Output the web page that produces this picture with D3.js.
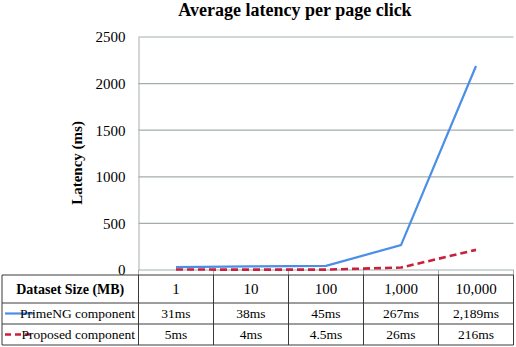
<!DOCTYPE html>
<html>
<head>
<meta charset="utf-8">
<script src="https://cdn.jsdelivr.net/npm/d3@7"></script>
</head>
<body style="margin:0;background:#fff;font-family:'Liberation Serif'">
<svg id="chart" width="516" height="347" font-family="Liberation Serif" style="display:block"></svg>
<script>
const categories = ['1', '10', '100', '1,000', '10,000'];
const primeng = [31, 38, 45, 267, 2189];
const proposed = [5, 4, 4.5, 26, 216];
const primengLabels = ['31ms', '38ms', '45ms', '267ms', '2,189ms'];
const proposedLabels = ['5ms', '4ms', '4.5ms', '26ms', '216ms'];
const yTicks = [0, 500, 1000, 1500, 2000, 2500];

const plotLeft = 138.5, plotRight = 513.5, plotTop = 37, plotBottom = 270;
const svg = d3.select('#chart');

const xScale = d3.scaleBand().domain(categories).range([plotLeft, plotRight]);
const yScale = d3.scaleLinear().domain([0, 2500]).range([plotBottom, plotTop]);

// title
svg.append('text')
  .attr('x', 295).attr('y', 16)
  .attr('text-anchor', 'middle')
  .attr('font-weight', 'bold').attr('font-size', 18)
  .text('Average latency per page click');

// gridlines + y axis
const yAxis = d3.axisLeft(yScale).tickValues(yTicks).tickFormat(d3.format('d')).tickSize(0).tickPadding(13);
const gy = svg.append('g').attr('transform', `translate(${plotLeft},0)`).call(yAxis);
gy.attr('font-family', 'Liberation Serif');
gy.select('.domain').attr('stroke', '#a4adad');
gy.selectAll('text').attr('font-size', 15).attr('fill', '#000');

svg.append('g').selectAll('line').data(yTicks).join('line')
  .attr('x1', plotLeft).attr('x2', plotRight)
  .attr('y1', d => yScale(d)).attr('y2', d => yScale(d))
  .attr('stroke', '#a4adad').attr('stroke-width', 1.2);

// small category ticks
svg.append('g').selectAll('line').data(categories.concat(['end'])).join('line')
  .attr('x1', (d, i) => plotLeft + i * xScale.bandwidth())
  .attr('x2', (d, i) => plotLeft + i * xScale.bandwidth())
  .attr('y1', plotBottom).attr('y2', plotBottom + 5)
  .attr('stroke', '#a4adad');

// y axis title
svg.append('text')
  .attr('transform', 'translate(82,163) rotate(-90)')
  .attr('text-anchor', 'middle')
  .attr('font-weight', 'bold').attr('font-size', 15)
  .text('Latency (ms)');

// lines
const line = d3.line()
  .x((d, i) => xScale(categories[i]) + xScale.bandwidth() / 2)
  .y(d => yScale(d));

svg.append('path').attr('d', line(primeng))
  .attr('fill', 'none').attr('stroke', '#4a8ee8').attr('stroke-width', 2.2);
svg.append('path').attr('d', line(proposed))
  .attr('fill', 'none').attr('stroke', '#c9203b').attr('stroke-width', 2.6)
  .attr('stroke-dasharray', '7,4');

// data table
const rowY = [275, 303, 324, 345];
const tableLeft = 2;
const colX = [tableLeft].concat(d3.range(categories.length + 1).map(i => plotLeft + i * xScale.bandwidth()));
const tbl = svg.append('g').attr('stroke', '#3a3a3a').attr('stroke-width', 1);
tbl.selectAll('.h').data(rowY).join('line')
  .attr('x1', tableLeft).attr('x2', plotRight)
  .attr('y1', d => d).attr('y2', d => d);
tbl.selectAll('.v').data(colX).join('line')
  .attr('x1', d => d).attr('x2', d => d)
  .attr('y1', rowY[0]).attr('y2', rowY[3]);

const rowMid = i => (rowY[i] + rowY[i + 1]) / 2;
svg.append('text')
  .attr('x', (tableLeft + plotLeft) / 2).attr('y', rowMid(0) + 5)
  .attr('text-anchor', 'middle').attr('font-weight', 'bold').attr('font-size', 14)
  .text('Dataset Size (MB)');

svg.append('g').selectAll('text').data(categories).join('text')
  .attr('x', d => xScale(d) + xScale.bandwidth() / 2).attr('y', rowMid(0) + 5)
  .attr('text-anchor', 'middle').attr('font-size', 15)
  .text(d => d);

svg.append('g').selectAll('text').data(primengLabels).join('text')
  .attr('x', (d, i) => xScale(categories[i]) + xScale.bandwidth() / 2).attr('y', rowMid(1) + 4.5)
  .attr('text-anchor', 'middle').attr('font-size', 13.5)
  .text(d => d);

svg.append('g').selectAll('text').data(proposedLabels).join('text')
  .attr('x', (d, i) => xScale(categories[i]) + xScale.bandwidth() / 2).attr('y', rowMid(2) + 4.5)
  .attr('text-anchor', 'middle').attr('font-size', 13.5)
  .text(d => d);

// legend keys in table
svg.append('line').attr('x1', 5).attr('x2', 34).attr('y1', rowMid(1)).attr('y2', rowMid(1))
  .attr('stroke', '#4a8ee8').attr('stroke-width', 2.2);
svg.append('text').attr('x', 135).attr('y', rowMid(1) + 4.5)
  .attr('text-anchor', 'end').attr('font-size', 13.5).text('PrimeNG component');
svg.append('line').attr('x1', 5).attr('x2', 31).attr('y1', rowMid(2)).attr('y2', rowMid(2))
  .attr('stroke', '#c9203b').attr('stroke-width', 2.6).attr('stroke-dasharray', '6,4');
svg.append('text').attr('x', 135).attr('y', rowMid(2) + 4.5)
  .attr('text-anchor', 'end').attr('font-size', 13.5).text('Proposed component');

svg.selectAll('text').attr('font-family', 'Liberation Serif').style('font-family', '"Liberation Serif"');
</script>
</body>
</html>
